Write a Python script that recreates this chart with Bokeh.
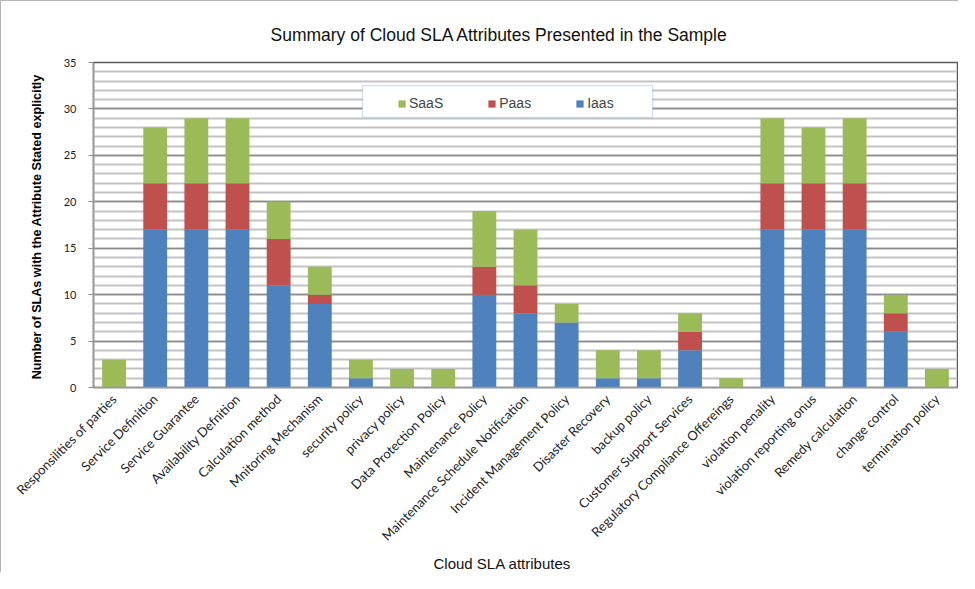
from bokeh.plotting import figure
from bokeh.models import (Legend, LegendItem, Title, BoxAnnotation, FixedTicker)
from bokeh.embed import file_html
from bokeh.resources import INLINE
import math

categories = [
    "Responsilities of parties", "Service Definition", "Service Guarantee",
    "Availability Defnition", "Calculation method", "Mnitoring Mechanism",
    "security policy", "privacy policy", "Data Protection Policy",
    "Maintenance Policy", "Maintenance Schedule Notification",
    "Incident Management Policy", "Disaster Recovery", "backup policy",
    "Customer Support Services", "Regulatory Compliance Offereings",
    "violation penality", "violation reporting onus", "Remedy calculation",
    "change control", "termination policy",
]
iaas = [0, 17, 17, 17, 11, 9, 1, 0, 0, 10, 8, 7, 1, 1, 4, 0, 17, 17, 17, 6, 0]
paas = [0, 5, 5, 5, 5, 1, 0, 0, 0, 3, 3, 0, 0, 0, 2, 0, 5, 5, 5, 2, 0]
saas = [3, 6, 7, 7, 4, 3, 2, 2, 2, 6, 6, 2, 3, 3, 2, 1, 7, 6, 7, 2, 2]
y_ticks = [0, 5, 10, 15, 20, 25, 30, 35]

title_text = "Summary of Cloud SLA Attributes Presented in the Sample"
x_label = "Cloud SLA attributes"
y_label = "Number of SLAs with the Attribute  Stated explicitly"

data = dict(cat=categories, Iaas=iaas, Paas=paas, SaaS=saas)

p = figure(x_range=categories, y_range=(0, 35), width=958, height=572,
           output_backend="svg", toolbar_location=None,
           min_border_left=92, min_border_right=2, min_border_top=61,
           min_border_bottom=186)
p.styles = {"border-top": "1px solid #b4b4b4", "border-left": "1px solid #b4b4b4"}
p.background_fill_color = "white"
p.border_fill_color = "white"
p.outline_line_color = "#5a5a5a"
p.outline_line_width = 1.5

rs = p.vbar_stack(["Iaas", "Paas", "SaaS"], x="cat", width=0.58, source=data,
                  color=["#4F81BD", "#C0504D", "#9BBB59"], line_color=None)

# title
p.title.text = title_text
p.title.align = "left"
p.title.offset = 177
p.title.standoff = 36
p.title.text_font = "Liberation Sans"
p.title.text_font_size = "17.5px"
p.title.text_font_style = "normal"
p.title.text_color = "#111111"

# grid
p.xgrid.grid_line_color = None
p.ygrid.grid_line_color = "#8c8c8c"
p.ygrid.grid_line_width = 1.5
p.ygrid.minor_grid_line_color = "#c3c3c3"
p.ygrid.minor_grid_line_width = 2

# y axis
p.yaxis.ticker = FixedTicker(ticks=y_ticks, minor_ticks=list(range(0, 36)))
p.yaxis.axis_line_color = "#9a9a9a"
p.yaxis.axis_line_width = 1.5
p.yaxis.major_tick_line_color = "#8c8c8c"
p.yaxis.major_tick_out = 5
p.yaxis.major_tick_in = 0
p.yaxis.minor_tick_line_color = None
p.yaxis.major_label_text_font = "Lato"
p.yaxis.major_label_text_font_size = "11px"
p.yaxis.major_label_text_color = "#222222"
p.yaxis.major_label_standoff = 12
p.yaxis.axis_label = y_label
p.yaxis.axis_label_text_font = "Liberation Sans"
p.yaxis.axis_label_text_font_style = "bold"
p.yaxis.axis_label_text_font_size = "12.6px"
p.yaxis.axis_label_text_color = "black"
p.yaxis.axis_label_standoff = 17

# x axis
p.xaxis.axis_line_color = "#9a9a9a"
p.xaxis.axis_line_width = 1.5
p.xaxis.major_tick_line_color = None
p.xaxis.minor_tick_line_color = None
p.xaxis.major_label_orientation = math.pi / 4
p.xaxis.major_label_text_font = "Lato"
p.xaxis.major_label_text_font_size = "13px"
p.xaxis.major_label_text_color = "#222222"
p.xaxis.major_label_standoff = 3
p.x_range.range_padding = 0

# x label as a title below the axis
p.add_layout(Title(text=x_label, align="left", offset=340, standoff=0,
                   text_font="Liberation Sans", text_font_size="15px",
                   text_font_style="normal", text_color="#111111"), "below")

# legend box + legend
p.add_layout(BoxAnnotation(left=269, right=559, bottom=270, top=302,
                           left_units="screen", right_units="screen",
                           bottom_units="screen", top_units="screen",
                           fill_color="white", fill_alpha=1,
                           line_color="#6f9bd8", line_width=1.5))
legend = Legend(items=[LegendItem(label="SaaS", renderers=[rs[2]]),
                       LegendItem(label="Paas", renderers=[rs[1]]),
                       LegendItem(label="Iaas", renderers=[rs[0]])],
                orientation="horizontal", location=(304, 276),
                padding=6, spacing=44, margin=0,
                glyph_width=9, glyph_height=9, label_standoff=3,
                label_text_font="Liberation Sans", label_text_font_size="14px",
                border_line_color=None, background_fill_alpha=0)
p.add_layout(legend)

open("out.html", "w").write(file_html(p, INLINE))
